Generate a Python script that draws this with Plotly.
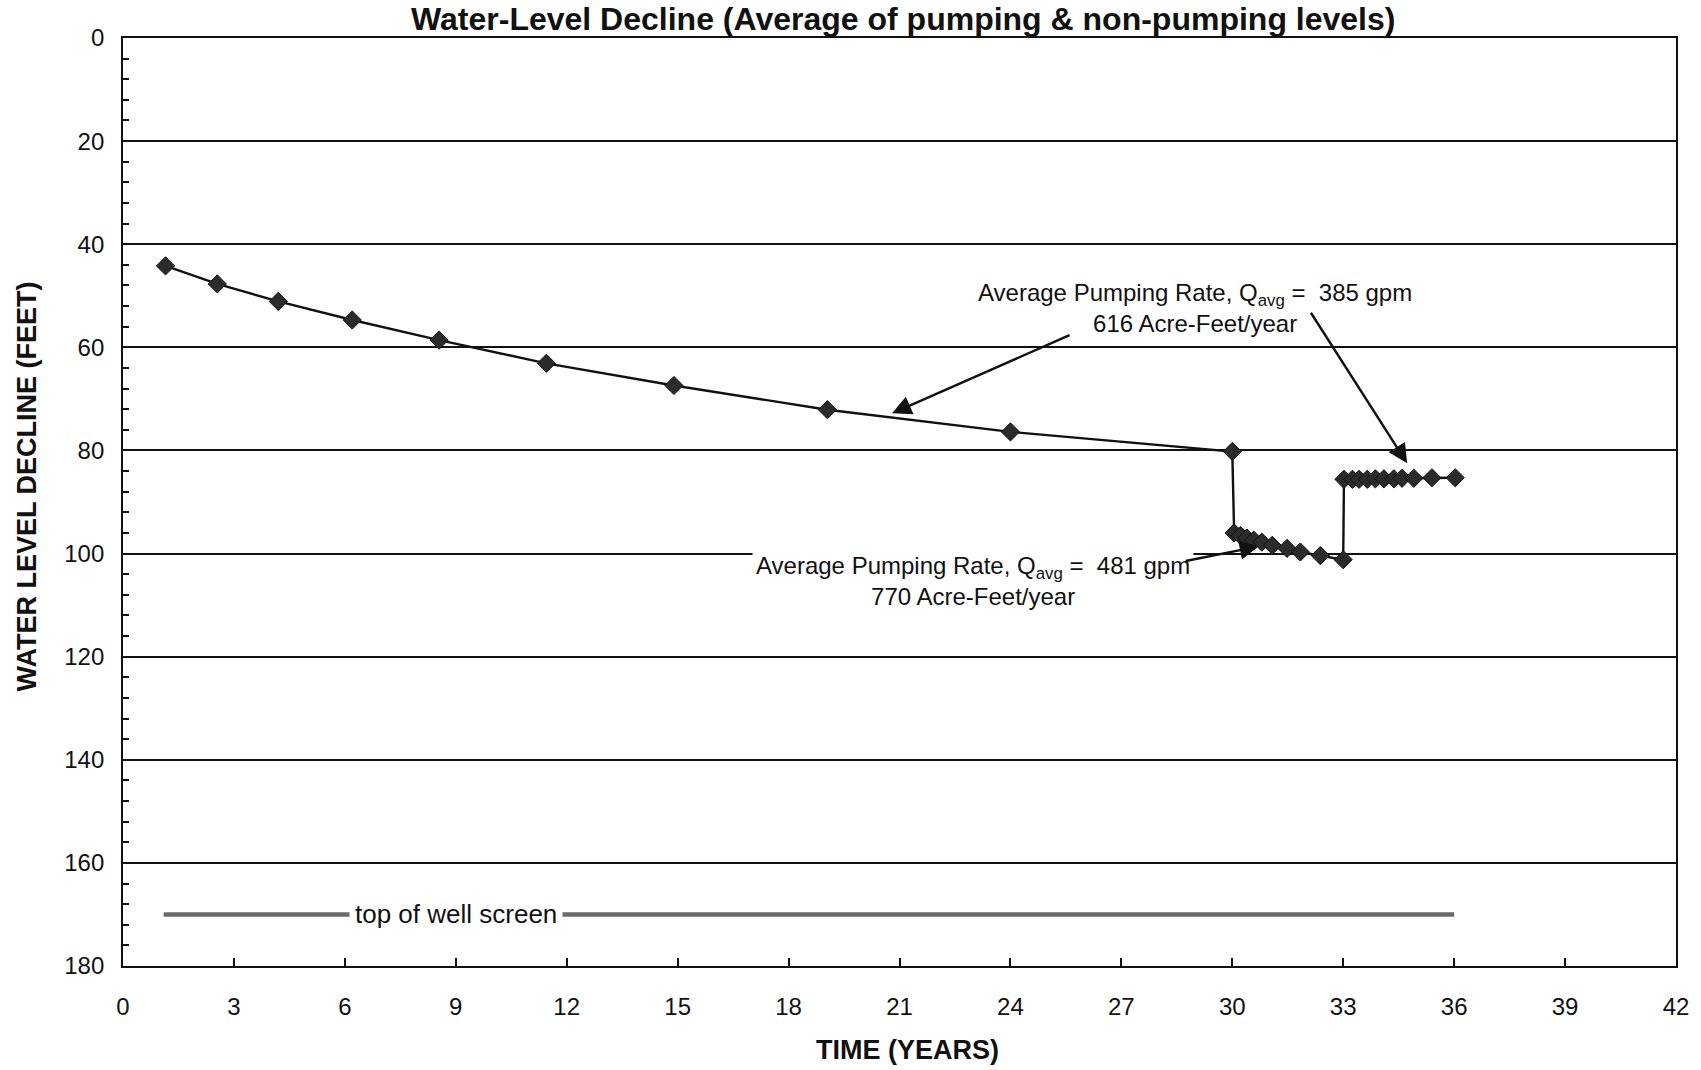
import plotly.graph_objects as go

# ---- data ----
time_phase1 = [1.15, 2.55, 4.2, 6.2, 8.55, 11.45, 14.9, 19.05, 24.0, 30.0]
decline_phase1 = [44.2, 47.7, 51.1, 54.7, 58.6, 63.1, 67.4, 72.1, 76.4, 80.2]

time_phase2 = [30.05, 30.22, 30.4, 30.58, 30.8, 31.08, 31.48, 31.84, 32.38, 33.0]
decline_phase2 = [96.0, 96.5, 97.0, 97.4, 97.8, 98.4, 99.0, 99.7, 100.4, 101.2]

time_phase3 = [33.02, 33.25, 33.43, 33.65, 33.87, 34.1, 34.37, 34.59, 34.91, 35.4, 36.03]
decline_phase3 = [85.6, 85.6, 85.6, 85.6, 85.5, 85.5, 85.5, 85.4, 85.4, 85.3, 85.3]

screen_time = [1.1, 36.0]
screen_depth = [170, 170]

x_ticks = [0, 3, 6, 9, 12, 15, 18, 21, 24, 27, 30, 33, 36, 39, 42]
y_ticks = [0, 20, 40, 60, 80, 100, 120, 140, 160, 180]

title_text = "Water-Level Decline (Average of pumping & non-pumping levels)"
x_title = "TIME (YEARS)"
y_title = "WATER LEVEL DECLINE (FEET)"
note_385 = "Average Pumping Rate, Q<sub>avg</sub> =  385 gpm<br>616 Acre-Feet/year"
note_481 = "Average Pumping Rate, Q<sub>avg</sub> =  481 gpm<br>770 Acre-Feet/year"
screen_label = "top of well screen"

SANS = "Liberation Sans, Arial, sans-serif"

fig = go.Figure()

fig.add_trace(go.Scatter(
    x=screen_time, y=screen_depth, mode="lines",
    line=dict(color="#6a6a6a", width=4.5), showlegend=False, hoverinfo="skip"))

fig.add_trace(go.Scatter(
    x=time_phase1 + time_phase2 + time_phase3,
    y=decline_phase1 + decline_phase2 + decline_phase3,
    mode="lines+markers",
    line=dict(color="#111111", width=2.4),
    marker=dict(symbol="diamond", size=14, color="#2b2b2b",
                line=dict(color="#111111", width=1)),
    showlegend=False))

annotations = [
    dict(x=29.0, y=52.3, xref="x", yref="y", text=note_385, showarrow=False,
         font=dict(family=SANS, size=24, color="#111111"), align="center",
         bgcolor="white", borderpad=1),
    dict(x=23.0, y=105.3, xref="x", yref="y", text=note_481, showarrow=False,
         font=dict(family=SANS, size=24, color="#111111"), align="center",
         bgcolor="white", borderpad=3),
    dict(x=9.0, y=170, xref="x", yref="y", text=screen_label, showarrow=False,
         font=dict(family=SANS, size=26, color="#111111"),
         bgcolor="white", borderpad=5),
    # arrows
    dict(x=20.8, y=72.8, ax=25.64, ay=57.5, xref="x", yref="y", axref="x", ayref="y",
         text="", showarrow=True, arrowhead=2, arrowsize=1.6, arrowwidth=2.4,
         arrowcolor="#111111", standoff=0),
    dict(x=34.73, y=82.5, ax=32.1, ay=53.0, xref="x", yref="y", axref="x", ayref="y",
         text="", showarrow=True, arrowhead=2, arrowsize=1.6, arrowwidth=2.4,
         arrowcolor="#111111", standoff=0),
    dict(x=30.72, y=98.6, ax=28.7, ay=101.5, xref="x", yref="y", axref="x", ayref="y",
         text="", showarrow=True, arrowhead=2, arrowsize=1.6, arrowwidth=2.4,
         arrowcolor="#111111", standoff=0),
    # axis titles
    dict(x=-0.0617, y=0.517, xref="paper", yref="paper", text="<b>" + y_title + "</b>",
         textangle=-90, showarrow=False, xanchor="center", yanchor="middle",
         font=dict(family=SANS, size=27, color="#111111")),
    dict(x=0.505, y=-0.090, xref="paper", yref="paper", text="<b>" + x_title + "</b>",
         showarrow=False, xanchor="center", yanchor="middle",
         font=dict(family=SANS, size=27, color="#111111")),
]

fig.update_layout(
    width=1701, height=1070,
    margin=dict(l=123, r=21, t=38, b=104),
    paper_bgcolor="white", plot_bgcolor="white",
    title=dict(text="<b>" + title_text + "</b>", x=0.531, xanchor="center",
               y=1 - 19 / 1070, yanchor="middle", yref="container",
               font=dict(family=SANS, size=32, color="#111111")),
    annotations=annotations,
    showlegend=False,
)

fig.update_xaxes(
    range=[0, 42], tickvals=x_ticks, ticktext=[str(v) for v in x_ticks],
    ticks="inside", ticklen=8, tickwidth=1.5, tickcolor="#111111",
    showline=True, linecolor="#111111", linewidth=1.8, mirror=True,
    showgrid=False, zeroline=False,
    tickfont=dict(family=SANS, size=24, color="#111111"),
    ticklabelstandoff=18,
)
fig.update_yaxes(
    range=[180, 0], tickvals=y_ticks, ticktext=[str(v) for v in y_ticks],
    ticks="inside", ticklen=8, tickwidth=1.5, tickcolor="#111111",
    minor=dict(ticks="inside", ticklen=6, dtick=4, tick0=0, tickcolor="#111111",
               showgrid=False),
    showline=True, linecolor="#111111", linewidth=1.8, mirror=True,
    showgrid=True, gridcolor="#111111", gridwidth=1.5, zeroline=False,
    tickfont=dict(family=SANS, size=24, color="#111111"),
    ticklabelstandoff=12,
)

fig.write_html("out.html")
